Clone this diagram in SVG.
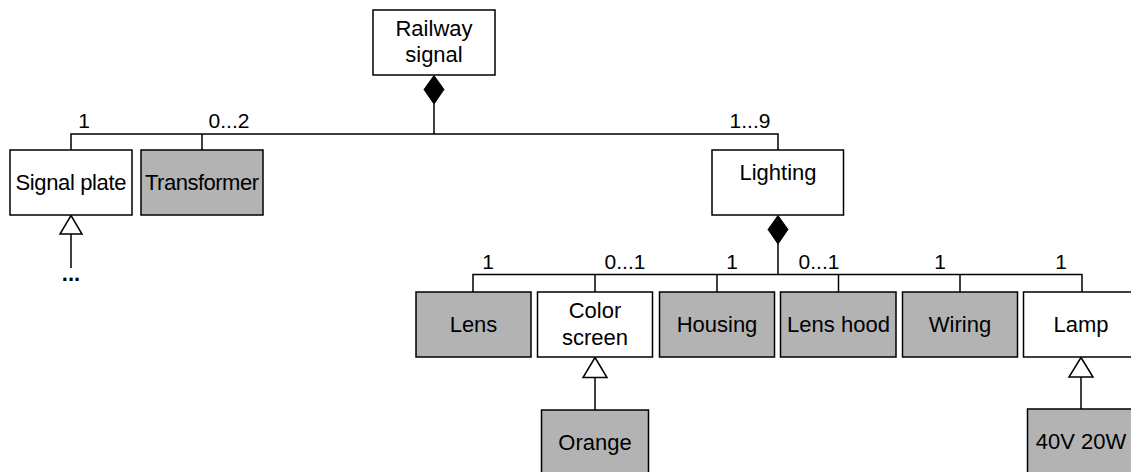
<svg xmlns="http://www.w3.org/2000/svg" width="1131" height="472" viewBox="0 0 1131 472">
<defs>
<style>
.box{fill:#ffffff;stroke:#000000;stroke-width:1.5}
.gray{fill:#b3b3b3;stroke:#000000;stroke-width:1.5}
.t{font-family:"Liberation Sans",Arial,sans-serif;font-size:22px;fill:#000000;text-anchor:middle}
.lbl{font-family:"Liberation Sans",Arial,sans-serif;font-size:21px;fill:#000000;text-anchor:middle}
.ln{fill:none;stroke:#000000;stroke-width:1.5}
.dia{fill:#000000;stroke:#000000;stroke-width:1}
.tri{fill:#ffffff;stroke:#000000;stroke-width:1.5}
</style>
</defs>
<rect width="1131" height="472" fill="#ffffff"/>
<g id="connectors">
<polyline class="ln" points="71,150 71,134 778,134 778,150"/>
<line class="ln" x1="202" y1="134" x2="202" y2="150"/>
<line class="ln" x1="434" y1="104" x2="434" y2="134"/>
<polygon class="dia" points="434,75.5 444,89.5 434,104 424,89.5"/>
<polyline class="ln" points="473,292 473,274.5 1082,274.5 1082,292"/>
<line class="ln" x1="595" y1="274.5" x2="595" y2="292"/>
<line class="ln" x1="717" y1="274.5" x2="717" y2="292"/>
<line class="ln" x1="838.5" y1="274.5" x2="838.5" y2="292"/>
<line class="ln" x1="960" y1="274.5" x2="960" y2="292"/>
<line class="ln" x1="778" y1="244" x2="778" y2="274.5"/>
<polygon class="dia" points="778,215.5 788,229.5 778,244 768,229.5"/>
<line class="ln" x1="71" y1="234" x2="71" y2="268"/>
<polygon class="tri" points="71,215.5 82,234 60,234"/>
<line class="ln" x1="595" y1="377.5" x2="595" y2="410"/>
<polygon class="tri" points="595,357.5 607,377.5 583,377.5"/>
<line class="ln" x1="1081" y1="377" x2="1081" y2="409"/>
<polygon class="tri" points="1081,357.5 1093,377 1069,377"/>
<text class="lbl" x="84" y="128">1</text>
<text class="lbl" x="229" y="128">0...2</text>
<text class="lbl" x="750" y="128">1...9</text>
<text class="lbl" x="488" y="269">1</text>
<text class="lbl" x="625" y="269">0...1</text>
<text class="lbl" x="732" y="269">1</text>
<text class="lbl" x="819" y="269">0...1</text>
<text class="lbl" x="940" y="269">1</text>
<text class="lbl" x="1061" y="269">1</text>
<text class="t" x="71" y="281" font-weight="bold">...</text>
</g>
<g id="railway-signal">
<rect class="box" x="373" y="10" width="122" height="65"/>
<text class="t" x="434" y="36">Railway</text>
<text class="t" x="434" y="62">signal</text>
</g>
<g id="signal-plate">
<rect class="box" x="10" y="150" width="122" height="65"/>
<text class="t" x="71" y="190" textLength="111">Signal plate</text>
</g>
<g id="transformer">
<rect class="gray" x="141" y="150" width="122" height="65"/>
<text class="t" x="202" y="190" textLength="114">Transformer</text>
</g>
<g id="lighting">
<rect class="box" x="712" y="150" width="131.5" height="65"/>
<text class="t" x="778" y="180">Lighting</text>
</g>
<g id="lens">
<rect class="gray" x="416" y="292" width="115" height="65"/>
<text class="t" x="473.5" y="332">Lens</text>
</g>
<g id="color-screen">
<rect class="box" x="537.5" y="292" width="115" height="65"/>
<text class="t" x="595" y="318">Color</text>
<text class="t" x="595" y="345">screen</text>
</g>
<g id="housing">
<rect class="gray" x="659.5" y="292" width="115" height="65"/>
<text class="t" x="717" y="332">Housing</text>
</g>
<g id="lens-hood">
<rect class="gray" x="780.5" y="292" width="115.5" height="65"/>
<text class="t" x="838.5" y="332">Lens hood</text>
</g>
<g id="wiring">
<rect class="gray" x="902.5" y="292" width="115" height="65"/>
<text class="t" x="960" y="332">Wiring</text>
</g>
<g id="lamp">
<rect class="box" x="1023.5" y="292" width="115" height="65"/>
<text class="t" x="1081" y="332">Lamp</text>
</g>
<g id="orange">
<rect class="gray" x="541.5" y="410" width="107" height="65"/>
<text class="t" x="595" y="450">Orange</text>
</g>
<g id="lamp-40v-20w">
<rect class="gray" x="1027.5" y="409" width="107" height="65"/>
<text class="t" x="1081" y="449">40V 20W</text>
</g>
</svg>
